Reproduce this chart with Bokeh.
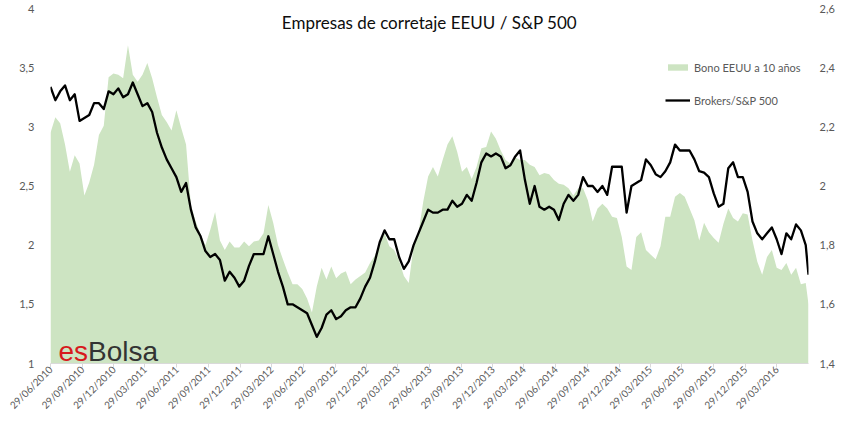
import math
import pandas as pd
from bokeh.plotting import figure
from bokeh.models import (Range1d, LinearAxis, FixedTicker, CustomJSTickFormatter,
                          Label, Legend, LegendItem, ColumnDataSource)
from bokeh.embed import file_html
from bokeh.resources import INLINE

# ---------------- data ----------------
start_date = "2010-06-29"
step_days = 14
end_date = "2016-06-29"

# Bono EEUU a 10 años (left axis, %)
bono = [2.95, 3.08, 3.03, 2.85, 2.62, 2.76, 2.69, 2.42, 2.53, 2.68,
        2.93, 3.01, 3.42, 3.45, 3.44, 3.41, 3.69, 3.44, 3.38, 3.44,
        3.54, 3.41, 3.25, 3.10, 3.04, 2.97, 3.14, 2.99, 2.85, 2.34,
        2.20, 2.09, 2.00, 2.13, 2.28, 2.04, 1.96, 2.03, 1.98, 1.98,
        2.03, 1.99, 2.03, 2.04, 2.10, 2.34, 2.19, 2.00, 1.88, 1.77,
        1.67, 1.67, 1.63, 1.55, 1.43, 1.65, 1.81, 1.71, 1.82, 1.72,
        1.76, 1.78, 1.67, 1.71, 1.74, 1.77, 1.85, 1.91, 2.02, 2.10,
        1.99, 1.96, 1.87, 1.74, 1.68, 1.99, 2.10, 2.37, 2.58, 2.66,
        2.58, 2.72, 2.85, 2.92, 2.79, 2.62, 2.66, 2.56, 2.66, 2.82,
        2.83, 2.96, 2.90, 2.80, 2.72, 2.69, 2.74, 2.72, 2.72, 2.68,
        2.66, 2.59, 2.61, 2.60, 2.55, 2.52, 2.51, 2.48, 2.42, 2.48,
        2.48, 2.38, 2.20, 2.31, 2.35, 2.31, 2.24, 2.23, 2.07, 1.82,
        1.79, 2.07, 2.11, 1.96, 1.92, 1.88, 1.99, 2.24, 2.24, 2.41,
        2.44, 2.41, 2.31, 2.21, 2.04, 2.19, 2.11, 2.06, 2.02, 2.18,
        2.31, 2.23, 2.20, 2.27, 2.26, 2.04, 1.86, 1.75, 1.90, 1.96,
        1.81, 1.79, 1.85, 1.75, 1.81, 1.67, 1.68, 1.50]

# Brokers / S&P 500 (right axis)
brokers = [2.335, 2.29, 2.32, 2.34, 2.29, 2.31, 2.22, 2.23, 2.24, 2.28,
           2.28, 2.26, 2.32, 2.31, 2.33, 2.30, 2.31, 2.35, 2.31, 2.27,
           2.28, 2.25, 2.18, 2.13, 2.09, 2.06, 2.03, 1.98, 2.01, 1.92,
           1.86, 1.83, 1.78, 1.76, 1.77, 1.75, 1.68, 1.71, 1.69, 1.66,
           1.68, 1.73, 1.77, 1.77, 1.77, 1.83, 1.77, 1.71, 1.66, 1.60,
           1.60, 1.59, 1.58, 1.57, 1.53, 1.49, 1.52, 1.565, 1.58, 1.55,
           1.56, 1.58, 1.59, 1.59, 1.62, 1.66, 1.69, 1.745, 1.81, 1.85,
           1.82, 1.82, 1.76, 1.72, 1.745, 1.80, 1.84, 1.88, 1.92, 1.91,
           1.91, 1.92, 1.92, 1.95, 1.93, 1.94, 1.97, 1.95, 2.01, 2.08,
           2.11, 2.10, 2.11, 2.10, 2.06, 2.07, 2.10, 2.12, 2.02, 1.94,
           2.00, 1.93, 1.92, 1.93, 1.92, 1.885, 1.94, 1.97, 1.95, 1.97,
           2.03, 2.00, 2.00, 1.98, 2.00, 1.97, 2.065, 2.065, 2.065, 1.91,
           2.00, 2.01, 2.02, 2.09, 2.07, 2.04, 2.03, 2.05, 2.08, 2.14,
           2.12, 2.12, 2.12, 2.09, 2.05, 2.045, 2.03, 1.975, 1.93, 1.94,
           2.06, 2.08, 2.03, 2.03, 1.98, 1.88, 1.84, 1.82, 1.84, 1.86,
           1.82, 1.77, 1.84, 1.82, 1.87, 1.85, 1.80, 1.70]

x_tick_labels = ["29/06/2010", "29/09/2010", "29/12/2010", "29/03/2011",
                 "29/06/2011", "29/09/2011", "29/12/2011", "29/03/2012",
                 "29/06/2012", "29/09/2012", "29/12/2012", "29/03/2013",
                 "29/06/2013", "29/09/2013", "29/12/2013", "29/03/2014",
                 "29/06/2014", "29/09/2014", "29/12/2014", "29/03/2015",
                 "29/06/2015", "29/09/2015", "29/12/2015", "29/03/2016"]
left_ticks = [1, 1.5, 2, 2.5, 3, 3.5, 4]
right_ticks = [1.4, 1.6, 1.8, 2.0, 2.2, 2.4, 2.6]

title_text = "Empresas de corretaje EEUU / S&P 500"
series_names = ["Bono EEUU a 10 años", "Brokers/S&P 500"]

# ---------------- build ----------------
dates = list(pd.date_range(start_date, periods=len(bono) - 1, freq=f"{step_days}D")) + [pd.Timestamp(end_date)]
src = ColumnDataSource(dict(x=dates, bono=bono, brokers=brokers))

FONT = "Lato"
GRAY = "#595959"

p = figure(width=837, height=418, x_axis_type="datetime",
           output_backend="svg", toolbar_location=None,
           x_range=Range1d(dates[0], dates[-1]), y_range=Range1d(1, 4),
           min_border_left=50, min_border_right=21, min_border_top=8, min_border_bottom=54)
p.outline_line_color = None
p.xgrid.visible = False
p.ygrid.visible = False
p.background_fill_color = "white"
p.border_fill_color = "white"

p.extra_y_ranges = {"right": Range1d(1.4, 2.6)}

area = p.varea(x="x", y1=1, y2="bono", source=src, fill_color="#cde4c2")
line = p.line(x="x", y="brokers", source=src, y_range_name="right",
              line_color="black", line_width=2.3, line_join="round")

comma = CustomJSTickFormatter(code="return tick.toString().replace('.', ',');")

# x axis
tick_ms = [pd.to_datetime(t, dayfirst=True).value / 1e6 for t in x_tick_labels]
xa = p.xaxis[0]
xa.ticker = FixedTicker(ticks=tick_ms)
xa.major_label_overrides = {ms: lab for ms, lab in zip(tick_ms, x_tick_labels)}
xa.major_label_orientation = math.pi / 4
xa.axis_line_color = "#d9d9d9"
xa.major_tick_line_color = "#d9d9d9"
xa.major_tick_in = 0
xa.major_tick_out = 4
xa.minor_tick_line_color = None
xa.major_label_text_font = FONT
xa.major_label_text_font_size = "10px"
xa.major_label_text_color = GRAY
xa.major_label_standoff = 0

# left axis
ya = p.yaxis[0]
ya.ticker = FixedTicker(ticks=left_ticks)
ya.formatter = comma
ya.axis_line_color = None
ya.major_tick_line_color = None
ya.minor_tick_line_color = None
ya.major_label_text_font = FONT
ya.major_label_text_font_size = "11px"
ya.major_label_text_color = GRAY
ya.major_label_standoff = 10

# right axis
ra = LinearAxis(y_range_name="right", ticker=FixedTicker(ticks=right_ticks),
                formatter=comma)
ra.axis_line_color = None
ra.major_tick_line_color = None
ra.minor_tick_line_color = None
ra.major_label_text_font = FONT
ra.major_label_text_font_size = "11px"
ra.major_label_text_color = GRAY
ra.major_label_standoff = 5
p.add_layout(ra, "right")

# legend
legend = Legend(items=[LegendItem(label=series_names[0], renderers=[area]),
                       LegendItem(label=series_names[1], renderers=[line])],
                location=(615, 256), orientation="vertical",
                glyph_width=25, glyph_height=8, label_height=14,
                spacing=19, padding=0, margin=0, label_standoff=4,
                border_line_color=None, background_fill_alpha=0,
                label_text_font=FONT, label_text_font_size="11px",
                label_text_color=GRAY)
p.add_layout(legend)

# title
p.add_layout(Label(x=379, y=341, x_units="screen", y_units="screen", text=title_text,
                   text_align="center", text_baseline="middle",
                   text_font=FONT, text_font_size="17px", text_color="#0d0d0d"))

# watermark
p.add_layout(Label(x=8, y=12, x_units="screen", y_units="screen", text="es",
                   text_font="Liberation Sans", text_font_size="28px",
                   text_color="#d7191c", text_baseline="alphabetic"))
p.add_layout(Label(x=37.6, y=12, x_units="screen", y_units="screen", text="Bolsa",
                   text_font="Liberation Sans", text_font_size="28px",
                   text_color="#333333", text_baseline="alphabetic"))

open("out.html", "w").write(file_html(p, INLINE))
